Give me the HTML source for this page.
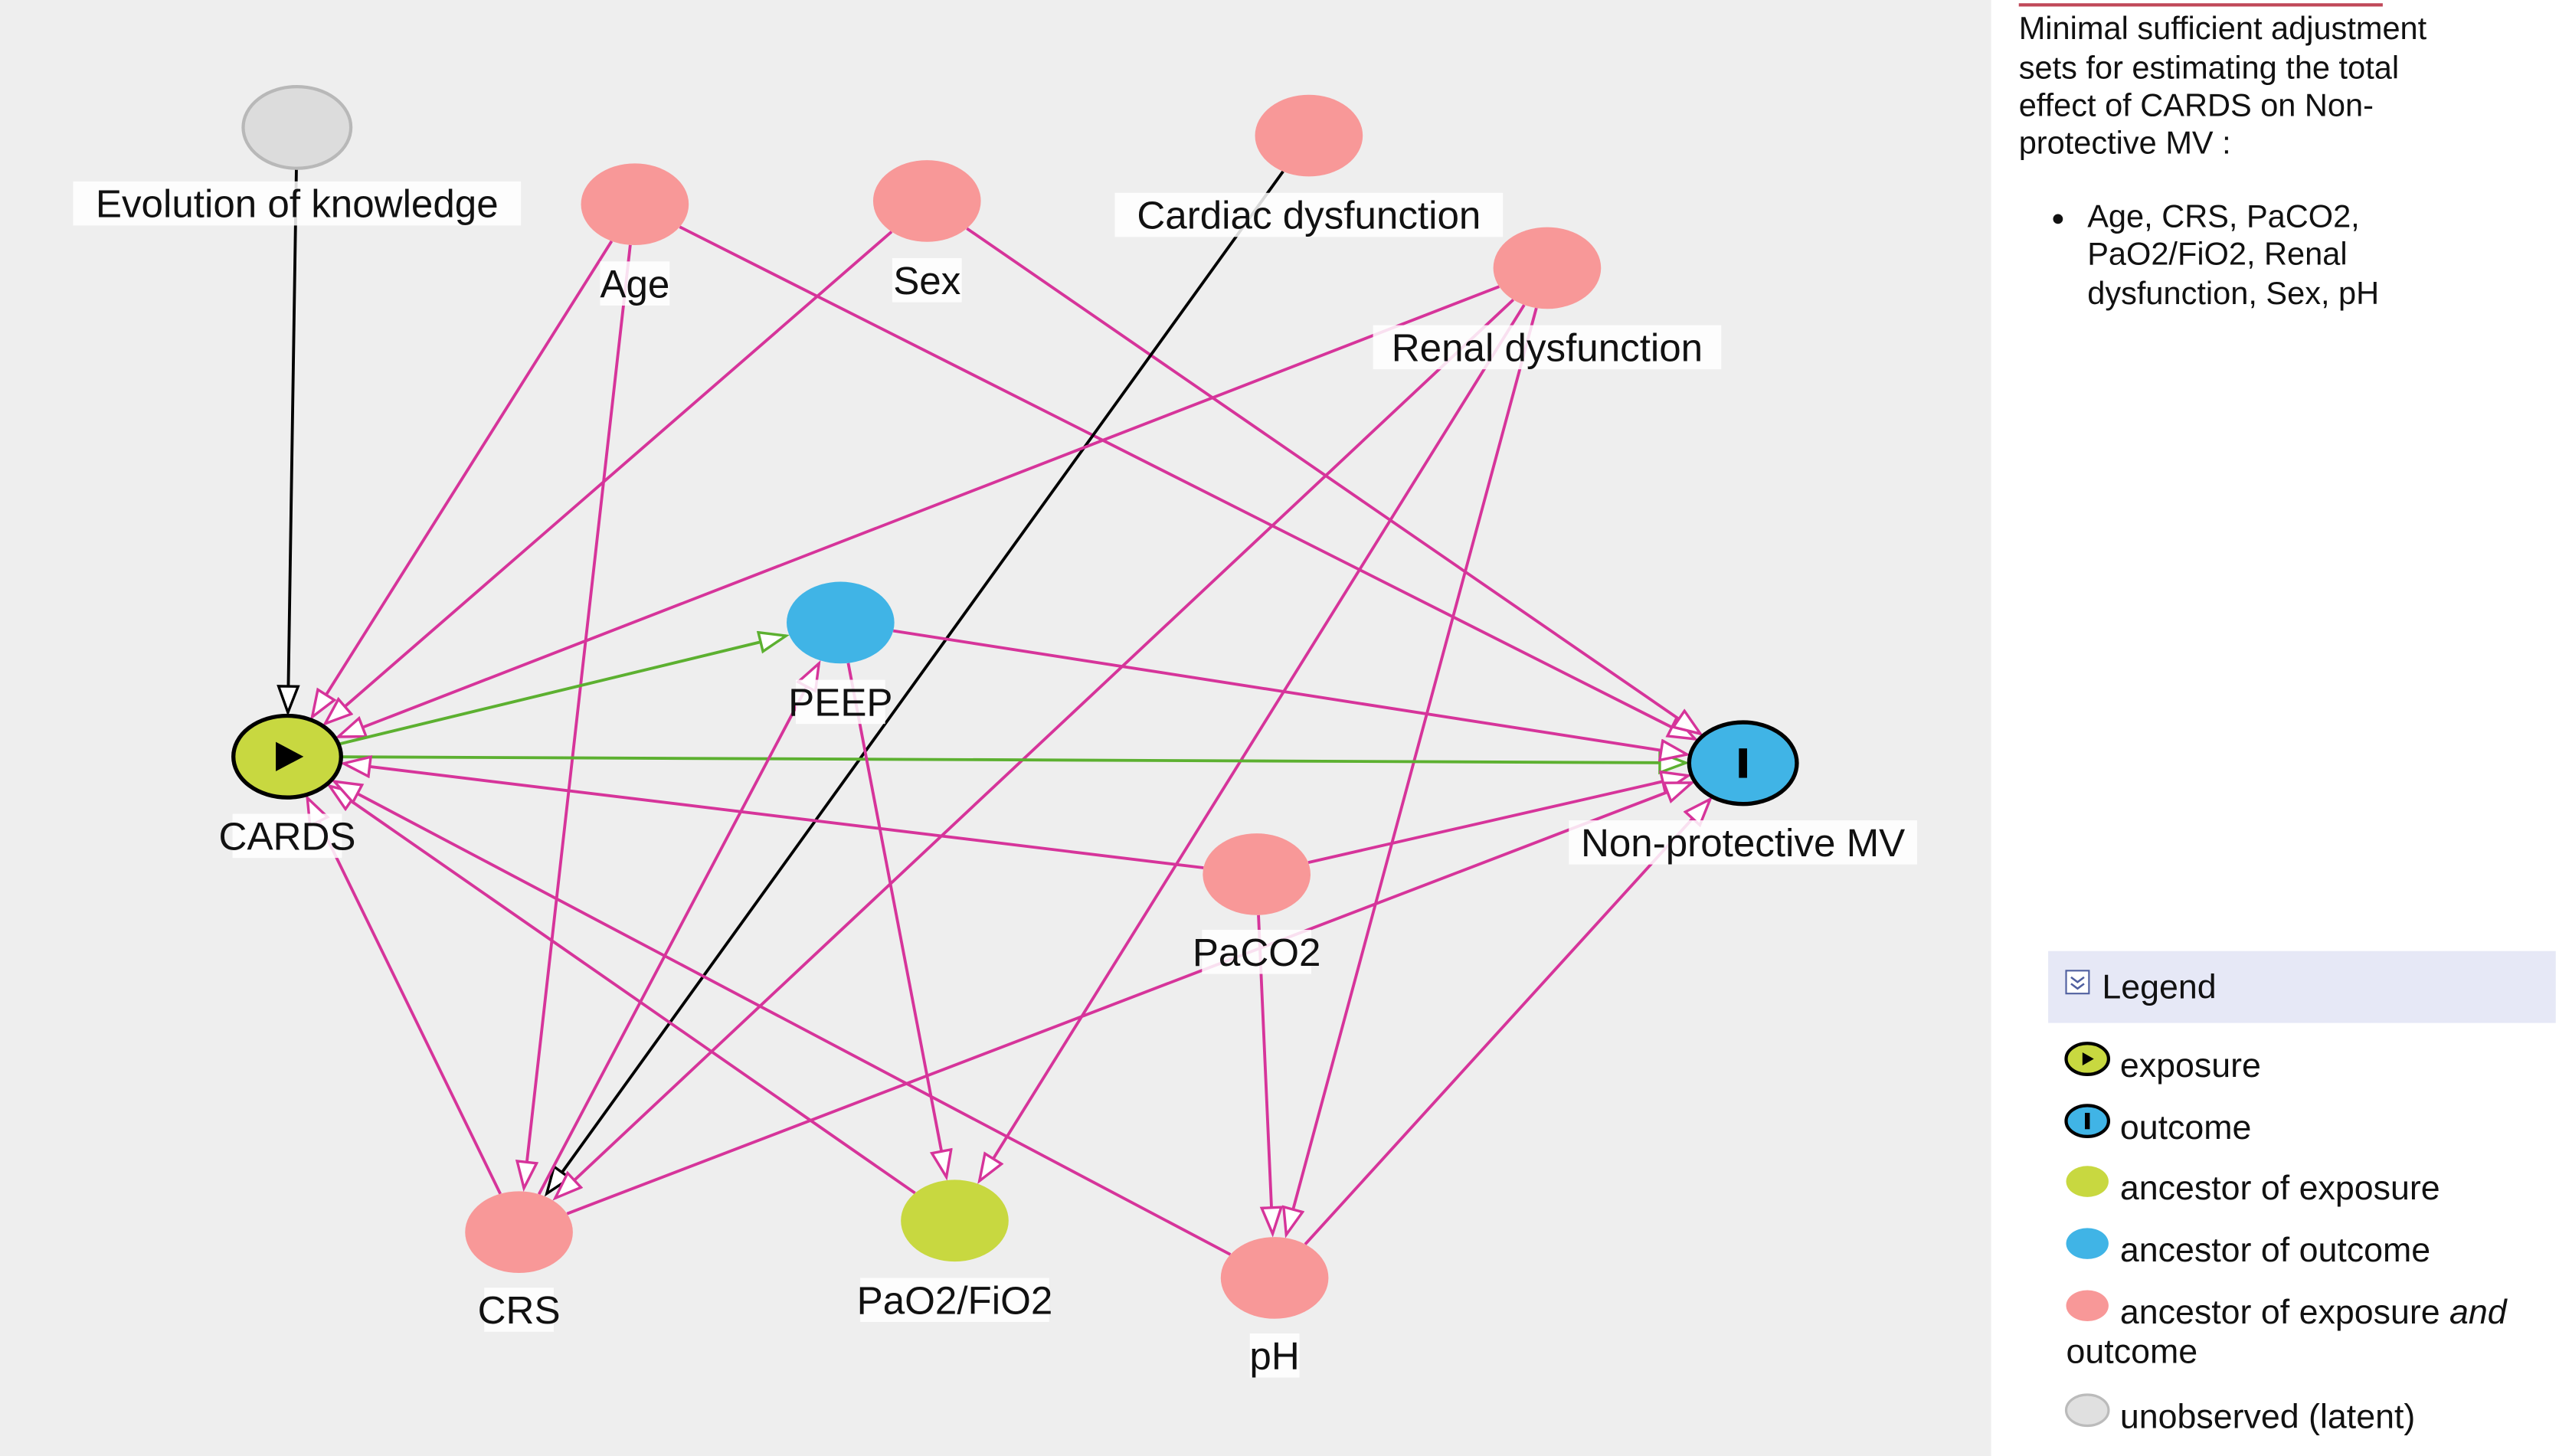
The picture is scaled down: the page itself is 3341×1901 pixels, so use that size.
<!DOCTYPE html>
<html><head><meta charset="utf-8"><style>
html,body{margin:0;padding:0;background:#fff;}
svg{display:block;}
text{font-family:"Liberation Sans",Arial,sans-serif;}
</style></head><body>
<svg id="s" width="3341" height="1901" viewBox="0 0 1568 891" preserveAspectRatio="none" xmlns="http://www.w3.org/2000/svg">
<defs>
<marker id="mp" markerUnits="userSpaceOnUse" markerWidth="20" markerHeight="16" refX="17" refY="7" orient="auto"><path d="M1,1 L17,7 L1,13 Z" fill="#fff" stroke="#d6349a" stroke-width="1.6"/></marker>
<marker id="mk" markerUnits="userSpaceOnUse" markerWidth="20" markerHeight="16" refX="17" refY="7" orient="auto"><path d="M1,1 L17,7 L1,13 Z" fill="#fff" stroke="#000" stroke-width="1.6"/></marker>
<marker id="mg" markerUnits="userSpaceOnUse" markerWidth="20" markerHeight="16" refX="17" refY="7" orient="auto"><path d="M1,1 L17,7 L1,13 Z" fill="#fff" stroke="#5cb030" stroke-width="1.6"/></marker>
</defs>
<rect x="0" y="0" width="1220" height="891" fill="#eeeeee"/>
<g id="edges"></g>
<g id="nodes"></g>
<line x1="1237" y1="3" x2="1460" y2="3" stroke="#c04858" stroke-width="2"/>
<g font-size="19.5" fill="#111">
<text x="1237" y="24">Minimal sufficient adjustment</text>
<text x="1237" y="48">sets for estimating the total</text>
<text x="1237" y="71">effect of CARDS on Non-</text>
<text x="1237" y="94">protective MV :</text>
<circle cx="1261" cy="134" r="3" fill="#111"/>
<text x="1279" y="139">Age, CRS, PaCO2,</text>
<text x="1279" y="162">PaO2/FiO2, Renal</text>
<text x="1279" y="186">dysfunction, Sex, pH</text>
</g>
<rect x="1255" y="582" width="311" height="44" fill="#e6e8f6"/>
<rect x="1266" y="594" width="14" height="14" fill="#fff" stroke="#5060a0" stroke-width="1"/>
<path d="M1269,598 l4,3 l4,-3 M1269,602 l4,3 l4,-3" stroke="#5060a0" fill="none" stroke-width="1.2"/>
<g font-size="21" fill="#111">
<text x="1288" y="611">Legend</text>
<ellipse cx="1279" cy="648" rx="13" ry="9.5" fill="#c8d840" stroke="#000" stroke-width="2"/>
<path d="M1276,644 L1283,648 L1276,652 Z" fill="#000"/>
<text x="1299" y="659">exposure</text>
<ellipse cx="1279" cy="686" rx="13" ry="9.5" fill="#40b4e6" stroke="#000" stroke-width="2"/>
<rect x="1277.5" y="681" width="3" height="10" fill="#000"/>
<text x="1299" y="697">outcome</text>
<ellipse cx="1279" cy="723" rx="13" ry="9.5" fill="#c8d840"/>
<text x="1299" y="734">ancestor of exposure</text>
<ellipse cx="1279" cy="761" rx="13" ry="9.5" fill="#40b4e6"/>
<text x="1299" y="772">ancestor of outcome</text>
<ellipse cx="1279" cy="799" rx="13" ry="9.5" fill="#f89898"/>
<text x="1299" y="810">ancestor of exposure <tspan font-style="italic">and</tspan></text>
<text x="1266" y="834">outcome</text>
<ellipse cx="1279" cy="863" rx="13" ry="9.5" fill="#e0e0e0" stroke="#bbb" stroke-width="1.5"/>
<text x="1299" y="874">unobserved (latent)</text>
</g>
</svg>
<script>
var N={
evo:[182,78,'Evolution of knowledge','#dcdcdc','#b8b8b8',124],
age:[389,125,'Age','#f89898',null,173],
sex:[568,123,'Sex','#f89898',null,171],
car:[802,83,'Cardiac dysfunction','#f89898',null,131],
ren:[948,164,'Renal dysfunction','#f89898',null,212],
peep:[515,381,'PEEP','#40b4e6',null,429],
cards:[176,463,'CARDS','#c8d840','#000',511],
npmv:[1068,467,'Non-protective MV','#40b4e6','#000',515],
paco2:[770,535,'PaCO2','#f89898',null,582],
crs:[318,754,'CRS','#f89898',null,801],
pao2:[585,747,'PaO2/FiO2','#c8d840',null,795],
ph:[781,782,'pH','#f89898',null,829]};
var E=[['evo','cards','k'],['age','cards','p'],['age','crs','p'],['age','npmv','p'],['sex','cards','p'],['sex','npmv','p'],
['car','crs','k'],['ren','cards','p'],['ren','crs','p'],['ren','pao2','p'],['ren','ph','p'],
['cards','peep','g'],['cards','npmv','g'],['peep','npmv','p'],['peep','pao2','p'],['crs','peep','p'],
['paco2','cards','p'],['paco2','npmv','p'],['paco2','ph','p'],['crs','cards','p'],['crs','npmv','p'],
['pao2','cards','p'],['ph','cards','p'],['ph','npmv','p']];
var col={p:'#d6349a',k:'#000',g:'#5cb030'};
var ns='http://www.w3.org/2000/svg';
function el(t,a,p){var e=document.createElementNS(ns,t);for(var k in a)e.setAttribute(k,a[k]);p.appendChild(e);return e;}
var ge=document.getElementById('edges'),gn=document.getElementById('nodes');
var RX=33,RY=25;
function rad(dx,dy){var l=Math.hypot(dx,dy);var ux=dx/l,uy=dy/l;return 1/Math.sqrt((ux/RX)*(ux/RX)+(uy/RY)*(uy/RY));}
E.forEach(function(e){var a=N[e[0]],b=N[e[1]];var dx=b[0]-a[0],dy=b[1]-a[1],l=Math.hypot(dx,dy);
var r1=rad(dx,dy),r2=rad(dx,dy)+2;
el('line',{x1:a[0]+dx/l*r1,y1:a[1]+dy/l*r1,x2:b[0]-dx/l*r2,y2:b[1]-dy/l*r2,stroke:col[e[2]],'stroke-width':1.8,'marker-end':'url(#m'+e[2]+')'},ge);});
for(var k in N){var n=N[k];
el('ellipse',{cx:n[0],cy:n[1],rx:RX,ry:RY,fill:n[3],stroke:n[4]||'none','stroke-width':n[4]=='#000'?2.5:2},gn);
if(k=='cards')el('path',{d:'M'+(n[0]-7)+','+(n[1]-9)+' L'+(n[0]+10)+','+n[1]+' L'+(n[0]-7)+','+(n[1]+9)+' Z',fill:'#000'},gn);
if(k=='npmv')el('rect',{x:n[0]-2.5,y:n[1]-9,width:5,height:18,fill:'#000'},gn);
var t=el('text',{x:n[0],y:n[5]+9,'font-size':24,'text-anchor':'middle',fill:'#111'},gn);t.textContent=n[2];
var w=n[2].length*12.2+6;
var r=el('rect',{x:n[0]-w/2,y:n[5]-13,width:w,height:27,fill:'#fff','fill-opacity':0.85},gn);
gn.insertBefore(r,t);}
</script>
</body></html>
